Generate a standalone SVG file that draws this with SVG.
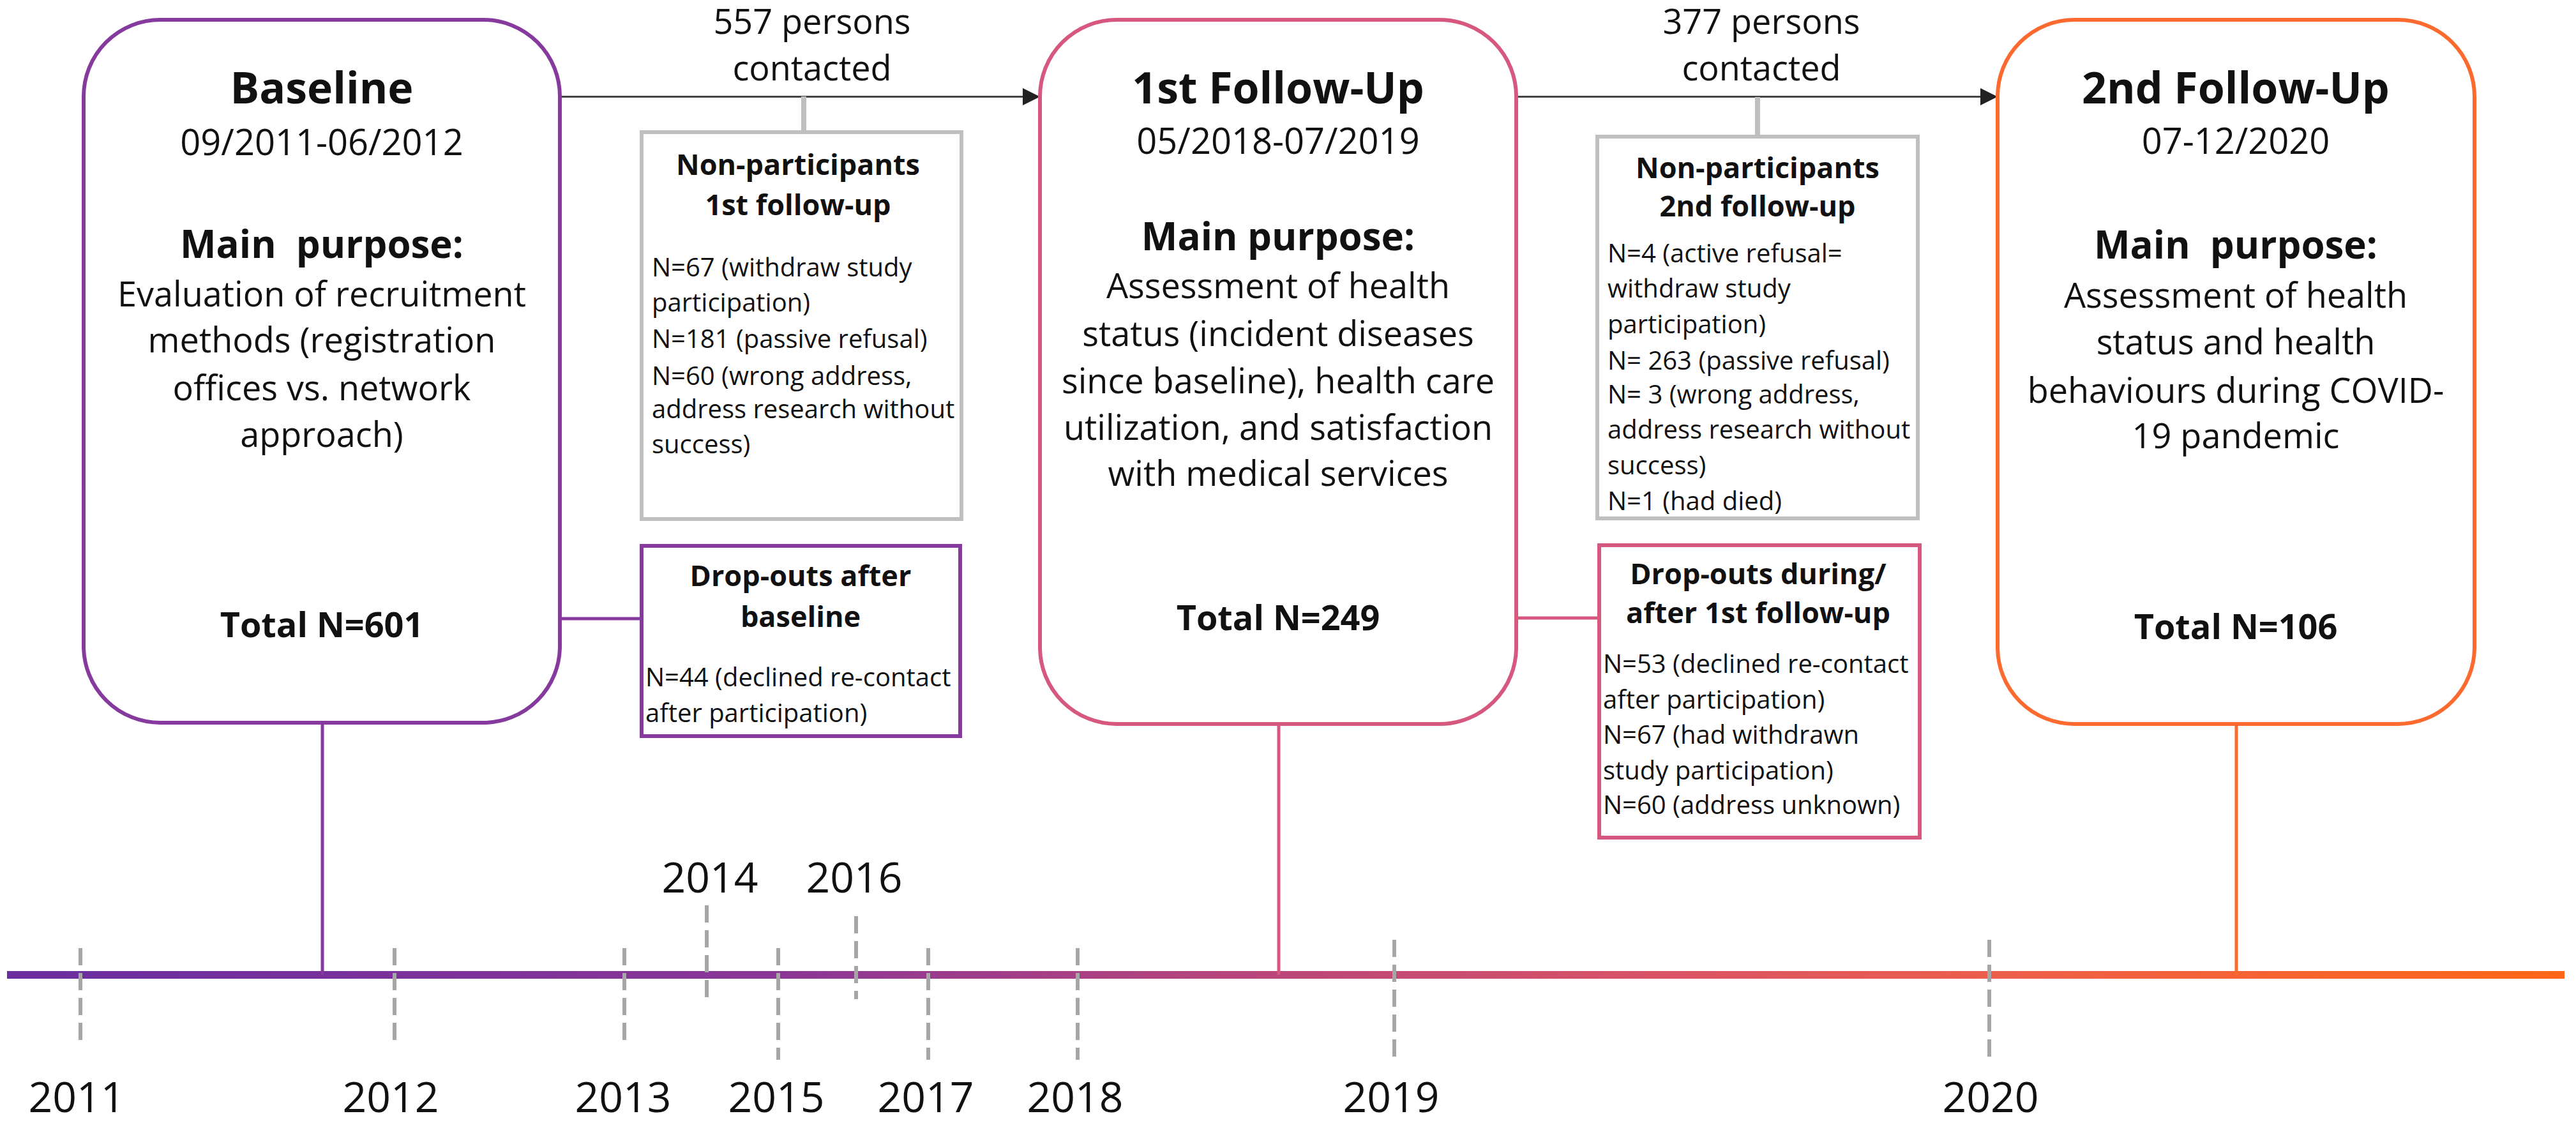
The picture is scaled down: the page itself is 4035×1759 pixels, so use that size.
<svg xmlns="http://www.w3.org/2000/svg" width="4035" height="1759" viewBox="0 0 4035 1759">
<defs>
<linearGradient id="tl" x1="11" y1="0" x2="4017" y2="0" gradientUnits="userSpaceOnUse">
<stop offset="0" stop-color="#6a2d9f"/>
<stop offset="0.3" stop-color="#8a3696"/>
<stop offset="0.45" stop-color="#b0437f"/>
<stop offset="0.65" stop-color="#da5465"/>
<stop offset="0.8" stop-color="#ef6046"/>
<stop offset="1" stop-color="#ff6616"/>
</linearGradient>
<marker id="arr" markerUnits="userSpaceOnUse" markerWidth="27" markerHeight="28" viewBox="0 0 27 28" refX="27" refY="14" orient="auto">
<path d="M0,0.5 L27,14 L0,27.5 z" fill="#222"/>
</marker>
<style>
text{font-family:"Open Sans","Liberation Sans",sans-serif;fill:#111}
.ti{font-size:68px;font-weight:700;text-anchor:middle}
.dt{font-size:56px;text-anchor:middle}
.mp{font-size:60px;font-weight:700;text-anchor:middle}
.bd{font-size:54px;text-anchor:middle}
.tot{font-size:54px;font-weight:700;text-anchor:middle}
.hd{font-size:45px;font-weight:700;text-anchor:middle}
.sm{font-size:40px}
.cnt{font-size:54px;text-anchor:middle}
.yr{font-size:66px;text-anchor:middle}
.big{fill:#fff;stroke-width:6}
.sb{fill:#fff;stroke-width:6}
.pu{stroke:#863a9e}
.pk{stroke:#d6587f}
.or{stroke:#fd6a30}
.gr{stroke:#bfbfbf}
.tick{stroke:#a6a6a6;stroke-width:6;stroke-dasharray:27 12;fill:none}
.arrow{stroke:#444;stroke-width:3;fill:none}
</style>
</defs>

<g id="timeline">
<rect x="11" y="1521" width="4006" height="12" fill="url(#tl)"/>
<line class="tick" x1="126" y1="1485" x2="126" y2="1633"/>
<line class="tick" x1="618" y1="1485" x2="618" y2="1633"/>
<line class="tick" x1="978" y1="1485" x2="978" y2="1633"/>
<line class="tick" x1="1107" y1="1418" x2="1107" y2="1567"/>
<line class="tick" x1="1219" y1="1485" x2="1219" y2="1660"/>
<line class="tick" x1="1341" y1="1435" x2="1341" y2="1565"/>
<line class="tick" x1="1454" y1="1485" x2="1454" y2="1660"/>
<line class="tick" x1="1688" y1="1485" x2="1688" y2="1660"/>
<line class="tick" x1="2184" y1="1472" x2="2184" y2="1658"/>
<line class="tick" x1="3116" y1="1472" x2="3116" y2="1659"/>
<text class="yr" x="120" y="1742">2011</text>
<text class="yr" x="612" y="1742">2012</text>
<text class="yr" x="976" y="1742">2013</text>
<text class="yr" x="1112" y="1398">2014</text>
<text class="yr" x="1216" y="1742">2015</text>
<text class="yr" x="1338" y="1398">2016</text>
<text class="yr" x="1450" y="1742">2017</text>
<text class="yr" x="1684" y="1742">2018</text>
<text class="yr" x="2179" y="1742">2019</text>
<text class="yr" x="3118" y="1742">2020</text>
</g>

<g id="connectors">
<line x1="505" y1="1132" x2="505" y2="1527" stroke="#863a9e" stroke-width="5"/>
<line x1="2003" y1="1134" x2="2003" y2="1527" stroke="#d6587f" stroke-width="5"/>
<line x1="3503" y1="1134" x2="3503" y2="1527" stroke="#fd6a30" stroke-width="5"/>
<line class="arrow" x1="877" y1="151.5" x2="1629" y2="151.5" marker-end="url(#arr)"/>
<line class="arrow" x1="2375" y1="151.5" x2="3129" y2="151.5" marker-end="url(#arr)"/>
<line x1="1259" y1="151" x2="1259" y2="207" stroke="#bfbfbf" stroke-width="8"/>
<line x1="2753" y1="152" x2="2753" y2="214" stroke="#bfbfbf" stroke-width="8"/>
<line x1="877" y1="969" x2="1005" y2="969" stroke="#863a9e" stroke-width="5"/>
<line x1="2375" y1="968" x2="2505" y2="968" stroke="#d6587f" stroke-width="5"/>
<text class="cnt" x="1272" y="53">557 persons</text>
<text class="cnt" x="1272" y="126">contacted</text>
<text class="cnt" x="2759" y="53">377 persons</text>
<text class="cnt" x="2759" y="126">contacted</text>
</g>

<g id="baseline">
<rect class="big pu" x="131" y="31" width="746" height="1101" rx="120"/>
<text class="ti" x="504" y="162">Baseline</text>
<text class="dt" x="504" y="243">09/2011-06/2012</text>
<text class="mp" x="504" y="404" xml:space="preserve">Main  purpose:</text>
<text class="bd" x="504" y="480">Evaluation of recruitment</text>
<text class="bd" x="504" y="552">methods (registration</text>
<text class="bd" x="504" y="627">offices vs. network</text>
<text class="bd" x="504" y="700">approach)</text>
<text class="tot" x="504" y="998">Total N=601</text>
</g>

<g id="followup1">
<rect class="big pk" x="1629" y="31" width="746" height="1103" rx="120"/>
<text class="ti" x="2002" y="162">1st Follow-Up</text>
<text class="dt" x="2002" y="241">05/2018-07/2019</text>
<text class="mp" x="2002" y="392">Main purpose:</text>
<text class="bd" x="2002" y="467">Assessment of health</text>
<text class="bd" x="2002" y="542">status (incident diseases</text>
<text class="bd" x="2002" y="616">since baseline), health care</text>
<text class="bd" x="2002" y="689">utilization, and satisfaction</text>
<text class="bd" x="2002" y="761">with medical services</text>
<text class="tot" x="2002" y="987">Total N=249</text>
</g>

<g id="followup2">
<rect class="big or" x="3129" y="31" width="747" height="1103" rx="120"/>
<text class="ti" x="3502" y="162">2nd Follow-Up</text>
<text class="dt" x="3502" y="241">07-12/2020</text>
<text class="mp" x="3502" y="405" xml:space="preserve">Main  purpose:</text>
<text class="bd" x="3502" y="482">Assessment of health</text>
<text class="bd" x="3502" y="555">status and health</text>
<text class="bd" x="3502" y="631">behaviours during COVID-</text>
<text class="bd" x="3502" y="702">19 pandemic</text>
<text class="tot" x="3502" y="1001">Total N=106</text>
</g>

<g id="nonpart1">
<rect class="sb gr" x="1005" y="207" width="501" height="606"/>
<text class="hd" x="1250" y="274">Non-participants</text>
<text class="hd" x="1250" y="337">1st follow-up</text>
<text class="sm" x="1021" y="433">N=67 (withdraw study</text>
<text class="sm" x="1021" y="488">participation)</text>
<text class="sm" x="1021" y="545">N=181 (passive refusal)</text>
<text class="sm" x="1021" y="603">N=60 (wrong address,</text>
<text class="sm" x="1021" y="655">address research without</text>
<text class="sm" x="1021" y="710">success)</text>
</g>

<g id="dropout1">
<rect class="sb pu" x="1005" y="855" width="499" height="298"/>
<text class="hd" x="1254" y="918">Drop-outs after</text>
<text class="hd" x="1254" y="982">baseline</text>
<text class="sm" x="1011" y="1075">N=44 (declined re-contact</text>
<text class="sm" x="1011" y="1131">after participation)</text>
</g>

<g id="nonpart2">
<rect class="sb gr" x="2502" y="214" width="502" height="598"/>
<text class="hd" x="2753" y="279">Non-participants</text>
<text class="hd" x="2753" y="339">2nd follow-up</text>
<text class="sm" x="2518" y="411">N=4 (active refusal=</text>
<text class="sm" x="2518" y="466">withdraw study</text>
<text class="sm" x="2518" y="522">participation)</text>
<text class="sm" x="2518" y="579">N= 263 (passive refusal)</text>
<text class="sm" x="2518" y="632">N= 3 (wrong address,</text>
<text class="sm" x="2518" y="687">address research without</text>
<text class="sm" x="2518" y="743">success)</text>
<text class="sm" x="2518" y="799">N=1 (had died)</text>
</g>

<g id="dropout2">
<rect class="sb pk" x="2505" y="854" width="502" height="458"/>
<text class="hd" x="2754" y="915">Drop-outs during/</text>
<text class="hd" x="2754" y="976">after 1st follow-up</text>
<text class="sm" x="2511" y="1054">N=53 (declined re-contact</text>
<text class="sm" x="2511" y="1110">after participation)</text>
<text class="sm" x="2511" y="1165">N=67 (had withdrawn</text>
<text class="sm" x="2511" y="1221">study participation)</text>
<text class="sm" x="2511" y="1275">N=60 (address unknown)</text>
</g>
</svg>
